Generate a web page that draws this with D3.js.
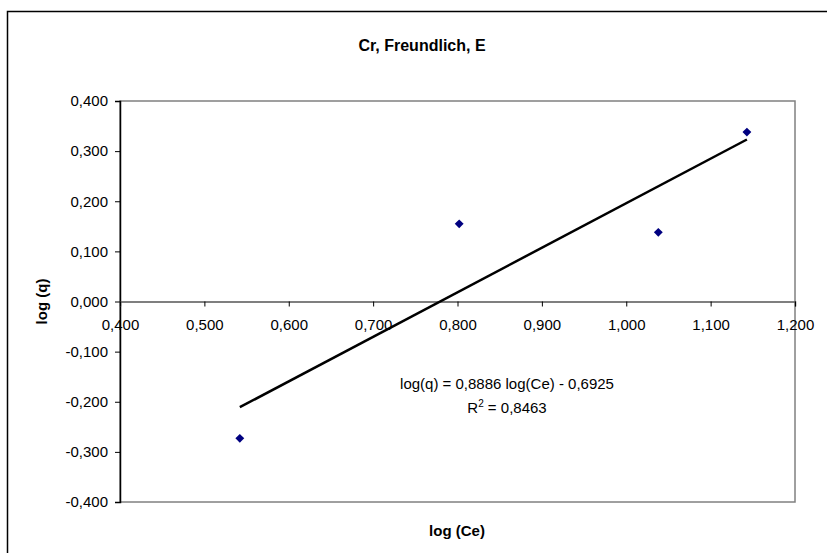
<!DOCTYPE html>
<html><head><meta charset="utf-8">
<script src="https://cdn.jsdelivr.net/npm/d3@7"></script>
<style>body{margin:0;background:#fff}svg{display:block;font-family:Arial,"Liberation Sans",sans-serif}</style>
</head><body>
<script>
const title = "Cr, Freundlich, E";
const xLabel = "log (Ce)";
const yLabel = "log (q)";
const logCe = [0.542, 0.802, 1.038, 1.143];
const logQ = [-0.273, 0.155, 0.138, 0.338];
const xTicks = [0.4, 0.5, 0.6, 0.7, 0.8, 0.9, 1.0, 1.1, 1.2];
const yTicks = [-0.4, -0.3, -0.2, -0.1, 0.0, 0.1, 0.2, 0.3, 0.4];
const slope = [0.8886];
const intercept = [-0.6925];
const r2 = ["0,8463"];

const W = 827, H = 553;
const svg = d3.select("body").append("svg").attr("width", W).attr("height", H);
const fmt = v => d3.format(".3f")(v).replace("\u2212", "-").replace(".", ",");

// outer chart frame (extends beyond viewport on right/bottom)
svg.append("rect").attr("x", 7.5).attr("y", 11.5).attr("width", 840).attr("height", 560)
  .attr("fill", "#fff").attr("stroke", "#000").attr("stroke-width", 1.5);

const L = 120, R = 795, T = 101, B = 502;
const x = d3.scaleLinear().domain([0.4, 1.2]).range([L, R]);
const y = d3.scaleLinear().domain([-0.4, 0.4]).range([B, T]);

// plot area border
svg.append("rect").attr("x", L).attr("y", T).attr("width", R - L).attr("height", B - T)
  .attr("fill", "#fff").attr("stroke", "#808080").attr("stroke-width", 1.5);

// y axis
const yAxis = svg.append("g").attr("transform", `translate(${L},0)`)
  .call(d3.axisLeft(y).tickValues(yTicks).tickFormat(fmt).tickSize(5).tickPadding(7));
yAxis.select(".domain").attr("stroke", "#000").attr("stroke-width", 1.5);
yAxis.selectAll(".tick line").attr("stroke", "#000");
yAxis.selectAll("text").attr("font-size", 15).attr("fill", "#000")
  .attr("font-family", "Arial, 'Liberation Sans', sans-serif");

// x axis at y = 0
const xAxis = svg.append("g").attr("transform", `translate(0,${y(0)})`)
  .call(d3.axisBottom(x).tickValues(xTicks).tickFormat(fmt).tickSize(5).tickPadding(13));
xAxis.select(".domain").attr("stroke", "#555").attr("stroke-width", 1.5);
xAxis.selectAll(".tick line").attr("stroke", "#000");
xAxis.selectAll("text").attr("font-size", 15).attr("fill", "#000")
  .attr("font-family", "Arial, 'Liberation Sans', sans-serif");

// trendline
const xmin = d3.min(logCe), xmax = d3.max(logCe);
svg.append("line")
  .attr("x1", x(xmin)).attr("y1", y(slope[0] * xmin + intercept[0]))
  .attr("x2", x(xmax)).attr("y2", y(slope[0] * xmax + intercept[0]))
  .attr("stroke", "#000").attr("stroke-width", 2.5);

// points
const diamond = d3.symbol().type(d3.symbolDiamond2).size(50);
svg.selectAll("path.pt").data(logCe).enter().append("path").attr("class", "pt")
  .attr("d", diamond)
  .attr("transform", (d, i) => `translate(${x(d)},${y(logQ[i])})`)
  .attr("fill", "#000080");

// equation
svg.append("text").attr("x", 507).attr("y", 389).attr("text-anchor", "middle")
  .attr("font-size", 15).text(`log(q) = ${String(slope[0]).replace(".", ",")} log(Ce) - ${String(-intercept[0]).replace(".", ",")}`);
const r2t = svg.append("text").attr("x", 507).attr("y", 413).attr("text-anchor", "middle").attr("font-size", 15);
r2t.append("tspan").text("R");
r2t.append("tspan").attr("dy", -6).attr("font-size", 10).text("2");
r2t.append("tspan").attr("dy", 6).text(" = " + r2[0]);

// titles
svg.append("text").attr("x", 422).attr("y", 51).attr("text-anchor", "middle")
  .attr("font-size", 16).attr("font-weight", "bold").text(title);
svg.append("text").attr("x", 457).attr("y", 536).attr("text-anchor", "middle")
  .attr("font-size", 15).attr("font-weight", "bold").text(xLabel);
svg.append("text").attr("transform", `translate(47,${(T + B) / 2}) rotate(-90)`).attr("text-anchor", "middle")
  .attr("font-size", 15).attr("font-weight", "bold").text(yLabel);
</script>
</body></html>
